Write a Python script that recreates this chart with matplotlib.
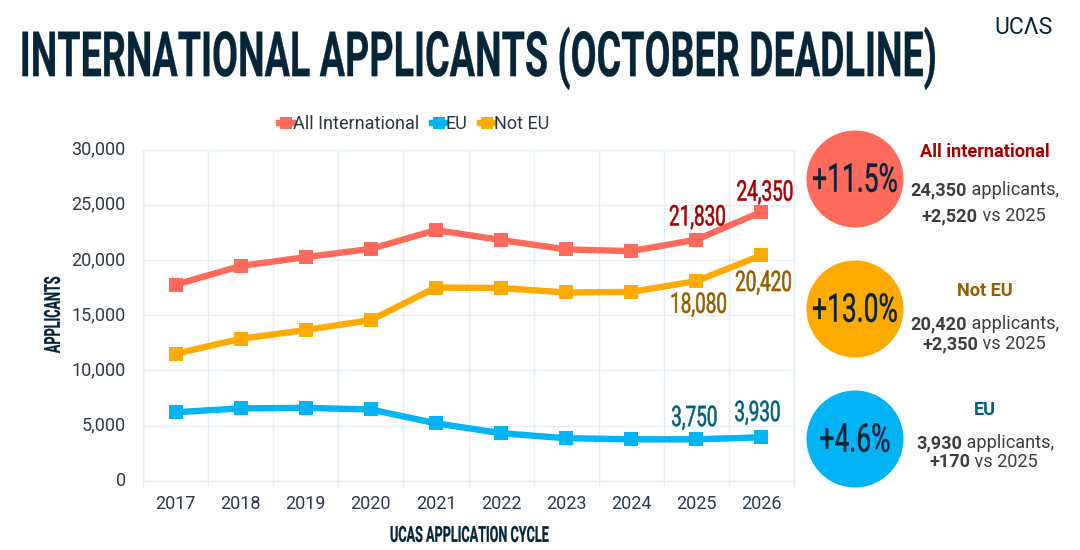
import matplotlib
matplotlib.use("Agg")
import matplotlib.pyplot as plt
from matplotlib.patches import Circle
from matplotlib.patheffects import AbstractPathEffect
from matplotlib.ticker import FuncFormatter, MultipleLocator
from matplotlib.transforms import Affine2D

years = [2017, 2018, 2019, 2020, 2021, 2022, 2023, 2024, 2025, 2026]
all_intl = [17750, 19450, 20250, 21000, 22700, 21800, 20950, 20800, 21830, 24350]
not_eu = [11500, 12850, 13650, 14550, 17500, 17450, 17050, 17100, 18080, 20420]
eu = [6200, 6550, 6600, 6450, 5200, 4300, 3850, 3750, 3750, 3930]

CORAL, AMBER, SKY = "#FF6A5C", "#FFAA00", "#00B4F5"
NAVY, GRID, TICK = "#062536", "#E4EEF7", "#2E3A47"
RED, BROWN, TEAL, GREY = "#A80000", "#945F00", "#00607F", "#3E3E3E"
COND = "Roboto"


class Tall(AbstractPathEffect):
    """Stretch the glyphs across the baseline, about their middle, for a condensed look."""
    def __init__(self, sy, stroke=0.0):
        super().__init__()
        self.sy = sy
        self.stroke = stroke

    def draw_path(self, renderer, gc, tpath, affine, rgbFace=None):
        ext = tpath.get_extents()
        c = (ext.y0 + ext.y1) / 2
        a = Affine2D().translate(0, -c).scale(1, self.sy).translate(0, c) + affine
        g = renderer.new_gc()
        g.copy_properties(gc)
        if self.stroke and rgbFace is not None:
            g.set_linewidth(self.stroke)
            g.set_foreground(rgbFace)
        renderer.draw_path(g, tpath, a, rgbFace)
        g.restore()


W, H = 1080, 550
fig = plt.figure(figsize=(W / 100, H / 100), dpi=100, facecolor="white")
L, R, T_, B = 143, 794, 149.5, 480.7
ax = fig.add_axes([L / W, 1 - B / H, (R - L) / W, (B - T_) / H])

series = [("All International", all_intl, CORAL), ("EU", eu, SKY), ("Not EU", not_eu, AMBER)]
x = list(range(len(years)))
handles = []
for name, vals, col in series:
    h, = ax.plot(x, vals, color=col, lw=4.6, marker="s", ms=10.5, mew=0, label=name,
                 solid_joinstyle="round", zorder=3, clip_on=False)
    handles.append(h)

ax.set_xlim(-0.5, len(years) - 0.5)
ax.set_ylim(0, 30000)
ax.set_xticks([i - 0.5 for i in range(len(years) + 1)])
ax.set_xticks(x, minor=True)
ax.set_xticklabels([])
ax.set_xticklabels([str(y) for y in years], minor=True)
ax.yaxis.set_major_locator(MultipleLocator(5000))
ax.yaxis.set_major_formatter(FuncFormatter(lambda v, p: f"{int(v):,}"))
ax.grid(True, which="major", color=GRID, lw=1)
ax.set_axisbelow(True)
for s in ax.spines.values():
    s.set_color(GRID)
    s.set_linewidth(1)
ax.tick_params(axis="x", which="major", length=4, color=GRID, width=1)
ax.tick_params(axis="x", which="minor", length=0, pad=10, labelsize=13, labelcolor=TICK)
ax.tick_params(axis="y", length=0, pad=12.5, labelsize=13, labelcolor=TICK)
for lab in ax.get_xticklabels(minor=True) + ax.get_yticklabels():
    lab.set_fontfamily("Roboto")
plt.setp(ax.get_yticklabels(), va="center")

leg = fig.legend(handles=handles, loc="center", bbox_to_anchor=(414 / W, 1 - 124 / H), ncol=3,
                 frameon=False, prop={"family": "Roboto", "size": 13},
                 handlelength=0.78, handletextpad=0.0, columnspacing=0.67, markerscale=0.8)
for t in leg.get_texts():
    t.set_color("#2A3642")

# Value labels on the last two cycles
labels = [
    (8, all_intl, RED, 1, 22), (9, all_intl, RED, 3.5, 19),
    (8, not_eu, BROWN, 2, -24), (9, not_eu, BROWN, 2, -28),
    (8, eu, TEAL, -2, 21), (9, eu, TEAL, -4, 24),
]
for i, vals, col, dx, dy in labels:
    ax.annotate(f"{vals[i]:,}", (i, vals[i]), xytext=(dx * 0.72, dy * 0.72),
                textcoords="offset points", ha="center", va="center", color=col,
                fontsize=13.6, fontfamily=COND, zorder=5, path_effects=[Tall(1.5, 0.4)])

# Overlay in pixel coordinates for the slide furniture
ov = fig.add_axes([0, 0, 1, 1], zorder=10)
ov.set_xlim(0, W)
ov.set_ylim(H, 0)
ov.axis("off")


def txt(px, py, s, size, color, weight="normal", family="Roboto", ha="center", sy=None, stroke=0.0, **kw):
    t = ov.text(px, py, s, fontsize=size, color=color, fontweight=weight, fontfamily=family,
                ha=ha, va="center", **kw)
    if sy:
        t.set_path_effects([Tall(sy, stroke)])
    return t


txt(478, 58, "INTERNATIONAL APPLICANTS (OCTOBER DEADLINE)", 27.1, NAVY, "bold", COND, sy=1.66, stroke=0.2)
txt(1023, 28, "UC\u039bS", 16.5, NAVY, "normal")
txt(469, 535, "UCAS APPLICATION CYCLE", 9.1, NAVY, "bold", COND, sy=1.75, stroke=0.2)
txt(53, 315, "APPLICANTS", 9.1, NAVY, "bold", COND, sy=1.75, stroke=0.2, rotation=90)

blocks = [
    (179, CORAL, "+11.5%", "All international", RED, 151,
     ("24,350", " applicants,", 190, 967), ("+2,520", " vs 2025", 216, 978)),
    (309, AMBER, "+13.0%", "Not EU", BROWN, 290,
     ("20,420", " applicants,", 324, 967), ("+2,350", " vs 2025", 344, 978)),
    (439, SKY, "+4.6%", "EU", TEAL, 409,
     ("3,930", " applicants,", 443, 962), ("+170", " vs 2025", 462, 970)),
]
for cy, col, pct, head, hcol, hy, l1, l2 in blocks:
    ov.add_patch(Circle((855, cy), 48.5, fc=col, ec="none"))
    txt(855, cy + 1, pct, 19, NAVY, "normal", COND, sy=1.5, stroke=0.3)
    txt(985, hy + 1, head, 13.1, hcol, "bold")
    for bold, rest, y, split in (l1, l2):
        txt(split, y, bold, 13.1, GREY, "bold", ha="right")
        txt(split, y, rest, 13.1, GREY, ha="left")

fig.savefig("out.png", dpi=100, facecolor="white")
